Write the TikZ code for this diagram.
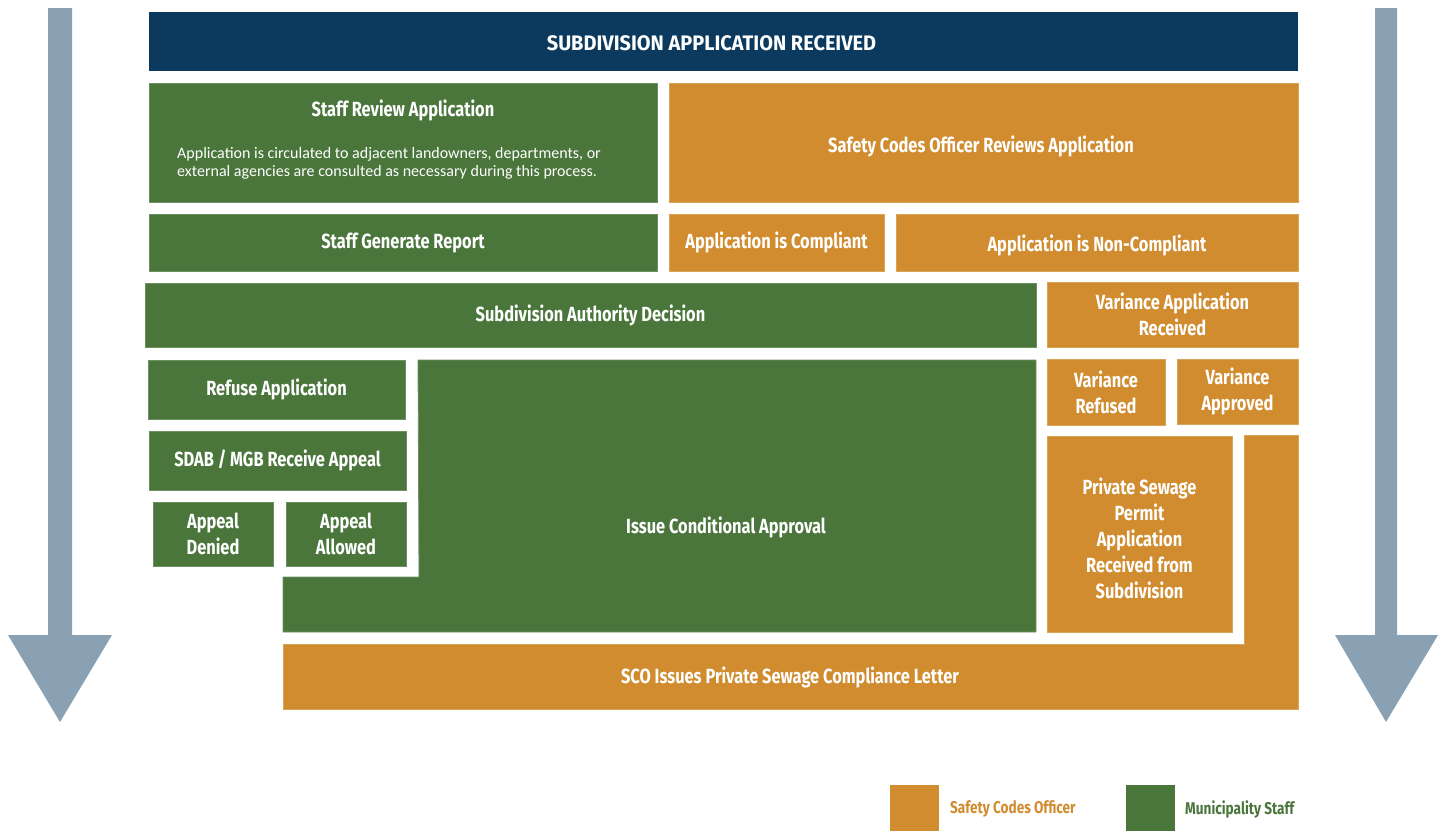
\documentclass[tikz,border=0pt]{standalone}
\usepackage{fontspec}
\newfontfamily\condf{Fira Sans}[FakeStretch=0.80]
\newfontfamily\titlef{Fira Sans}[FakeStretch=0.95]
\newfontfamily\bodyf{Carlito}
\definecolor{grn}{HTML}{4A763C}
\definecolor{org}{HTML}{D08C2E}
\definecolor{navy}{HTML}{0B3A5E}
\definecolor{arr}{HTML}{8AA1B4}
\begin{document}
\begin{tikzpicture}[x=1pt,y=-1pt,
  lbl/.style={text=white, align=center, inner sep=0pt, font=\condf\bfseries\fontsize{20.5}{26}\selectfont},
  gbox/.style={lbl, rectangle, fill=grn, draw=grn!80!white, line width=0.8pt},
  obox/.style={lbl, rectangle, fill=org, draw=org!80!white, line width=0.8pt},
  legtxt/.style={anchor=west, inner sep=0pt, font=\condf\bfseries\fontsize{17}{20}\selectfont}]
\useasboundingbox (0,0) rectangle (1446,831);
% side arrows
\fill[arr] (48,8) -- (72,8) -- (72,635) -- (112,635) -- (60,722) -- (8,635) -- (48,635) -- cycle;
\fill[arr] (1375,8) -- (1397,8) -- (1397,635) -- (1438,635) -- (1386,722) -- (1335,635) -- (1375,635) -- cycle;
% title
\node[rectangle, inner sep=0pt, fill=navy, minimum width=1149pt, minimum height=59pt] (title) at (723.5,41.5) {};
\node[lbl, font=\titlef\bfseries\fontsize{21}{26}\selectfont] (titletext) at (711.5,43) {SUBDIVISION APPLICATION RECEIVED};
% row 1
\node[gbox, minimum width=508pt, minimum height=119pt] (sra) at (403,142.5) {};
\node[lbl] (sratitle) at (403,110) {Staff Review Application};
\node[anchor=west, text=white, inner sep=0pt, align=left, font=\bodyf\fontsize{16}{18}\selectfont] (sratext) at (177,163) {Application is circulated to adjacent landowners, departments, or\\external agencies are consulted as necessary during this process.};
\node[obox, minimum width=629pt, minimum height=119pt] (sco) at (983.5,142.5) {};
\node[lbl] (scotext) at (981,146) {Safety Codes Officer Reviews Application};
% row 2
\node[gbox, minimum width=508pt, minimum height=57pt] (sgr) at (403,242.5) {Staff Generate Report};
\node[obox, minimum width=215pt, minimum height=57pt] (comp) at (776.5,242.5) {Application is Compliant};
\node[obox, minimum width=402pt, minimum height=57pt, text depth=0pt, text height=0pt] (nonc) at (1097,242.5) {};
\node[lbl] (nonctext) at (1097,245) {Application is Non-Compliant};
% row 3
\node[gbox, minimum width=891pt, minimum height=64pt] (sad) at (590.5,315) {Subdivision Authority Decision};
\node[obox, minimum width=251pt, minimum height=65pt] (var) at (1172.5,314.5) {Variance Application\\Received};
% left column
\node[gbox, minimum width=257pt, minimum height=59pt] (ref) at (276.5,389.5) {Refuse Application};
\node[gbox, minimum width=257pt, minimum height=59pt] (sdab) at (277.5,460.5) {SDAB / MGB Receive Appeal};
\node[gbox, minimum width=120pt, minimum height=64pt] (den) at (213,534) {Appeal\\Denied};
\node[gbox, minimum width=120pt, minimum height=64pt] (all) at (346,534) {Appeal\\Allowed};
% issue conditional approval (L-shape)
\fill[grn, draw=grn!80!white, line width=0.8pt] (418,360) -- (1036,360) -- (1036,632) -- (283,632) -- (283,577) -- (419,577) -- cycle;
\node[lbl] (ica) at (726,527) {Issue Conditional Approval};
% variance
\node[obox, minimum width=118pt, minimum height=66pt] (vref) at (1106,392) {Variance\\Refused};
\node[obox, minimum width=121pt, minimum height=65pt] (vapp) at (1237.5,391.5) {Variance\\Approved};
\node[obox, minimum width=185pt, minimum height=196pt] (psp) at (1139.5,534) {};
\node[lbl] (psptext) at (1139.5,538) {Private Sewage\\Permit\\Application\\Received from\\Subdivision};
% SCO letter (L-shape)
\fill[org, draw=org!80!white, line width=0.8pt] (283,644) -- (1244,644) -- (1244,435) -- (1298,435) -- (1298,709) -- (283,709) -- cycle;
\node[lbl] (letter) at (790,677) {SCO Issues Private Sewage Compliance Letter};
% legend
\node[rectangle, fill=org, minimum width=49pt, minimum height=46pt, inner sep=0pt] (lego) at (914.5,808) {};
\node[legtxt, text=org] (legot) at (950,809) {Safety Codes Officer};
\node[rectangle, fill=grn, minimum width=49pt, minimum height=46pt, inner sep=0pt] (legg) at (1150.5,808) {};
\node[legtxt, text=grn] (leggt) at (1185,809) {Municipality Staff};
\end{tikzpicture}
\end{document}
